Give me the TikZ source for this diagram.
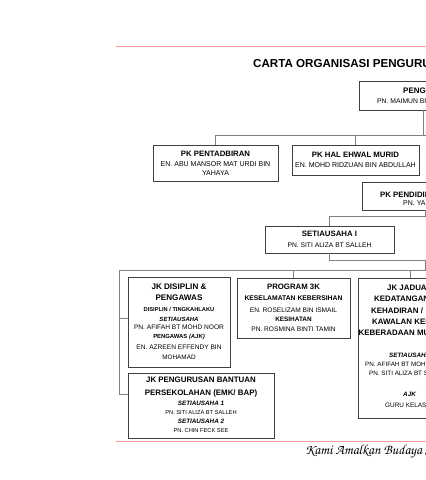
\documentclass[tikz,border=0pt]{standalone}
\usepackage[T1]{fontenc}
\usepackage{fontspec}
\setmainfont{Liberation Sans}
\usetikzlibrary{positioning}
\newcommand{\fb}[1]{\fontsize{#1}{10}\selectfont\bfseries}
\newcommand{\fn}[1]{\fontsize{#1}{10}\selectfont\mdseries\upshape}
\newcommand{\fbi}[1]{\fontsize{#1}{10}\selectfont\bfseries\itshape}
\tikzset{
  kotak/.style={draw=black!75,line width=0.6pt,inner sep=1pt,align=center,
                font=\fontsize{7}{10}\selectfont},
  garis/.style={draw=black!50,line width=0.6pt},
  merah/.style={draw=red!40,line width=0.8pt},
  teks/.style={anchor=west,inner sep=0pt},
}

\begin{document}
\begin{tikzpicture}[x=1pt,y=-1pt]
  \clip (0,0) rectangle (426,480);
  \useasboundingbox (0,0) rectangle (426,480);
  % garis merah atas dan bawah
  \draw[merah] (116,46) -- (426,46);
  \draw[merah] (116,441) -- (426,441);
  \node[teks,font=\fb{11.6}] (tajuk) at (253,64) {CARTA ORGANISASI PENGURUSAN};
  % peringkat atas
  \node[kotak,minimum width=134,minimum height=29] (peng) at (426,95.5) {};
  \node[teks,font=\fb{8}] (pengA) at (403,91) {PENGETUA};
  \node[teks,font=\fn{6.8}] (pengB) at (377,101.5) {PN. MAIMUN BINTI};
  \node[kotak,minimum width=125,minimum height=36] (pentadbiran) at (215.5,163)
    {\fb{7.8}PK PENTADBIRAN\\ \fn{7}EN. ABU MANSOR MAT URDI BIN\\[-1pt] \fn{7}YAHAYA};
  \node[kotak,minimum width=127,minimum height=30] (hem) at (355.5,160)
    {\fb{7.8}PK HAL EHWAL MURID\\ \fn{7}EN. MOHD RIDZUAN BIN ABDULLAH};
  \node[kotak,minimum width=106,minimum height=28] (pendid) at (415,196) {};
  \node[teks,font=\fb{7.8}] (pendidA) at (380,195) {PK PENDIDIKAN};
  \node[teks,font=\fn{7}] (pendidB) at (403,203.5) {PN. YAP};
  \node[kotak,minimum width=129,minimum height=27] (setia) at (329.5,239.5)
    {\fb{7.8}SETIAUSAHA I\\[1pt] \fn{6.7}PN. SITI ALIZA BT SALLEH};
  % jawatankuasa
  \node[kotak,minimum width=102,minimum height=90] (disiplin) at (179,322)
    {\fb{8.1}JK DISIPLIN \&\\[1pt] \fb{8.1}PENGAWAS\\[1pt] \fb{5.7}DISIPLIN / TINGKAHLAKU\\
     \fbi{6}SETIAUSAHA\\[-2pt] \fn{6.6}PN. AFIFAH BT MOHD NOOR\\[-1pt]
     \fb{5.9}PENGAWAS \textit{(AJK)}\\[1pt] \fn{6.6}EN. AZREEN EFFENDY BIN\\ \fn{6.4}MOHAMAD};
  \node[kotak,minimum width=113,minimum height=60] (prog) at (293.5,308)
    {\fb{7.8}PROGRAM 3K\\[1pt] \fb{6.8}KESELAMATAN KEBERSIHAN\\[2pt] \fn{6.6}EN. ROSELIZAM BIN ISMAIL\\[-1pt]
     \fb{6.4}KESIHATAN\\ \fn{6.6}PN. ROSMINA BINTI TAMIN};
  \node[kotak,minimum width=104,minimum height=140] (jadual) at (410,348) {};
  \node[teks,font=\fb{7.9}] (jadualA) at (387,288) {JK JADUAL};
  \node[teks,font=\fb{7.9}] (jadualB) at (374,299) {KEDATANGAN};
  \node[teks,font=\fb{7.9}] (jadualC) at (371,310.5) {KEHADIRAN /};
  \node[teks,font=\fb{7.9}] (jadualD) at (372,321.5) {KAWALAN KELUAR};
  \node[teks,font=\fb{7.9}] (jadualE) at (358.5,333) {KEBERADAAN MURID};
  \node[teks,font=\fbi{6.3}] (jadualF) at (389,355) {SETIAUSAHA};
  \node[teks,font=\fn{6.3}] (jadualG) at (365,364.5) {PN. AFIFAH BT MOHD NOOR};
  \node[teks,font=\fn{6.3}] (jadualH) at (369,373.5) {PN. SITI ALIZA BT SALLEH};
  \node[teks,font=\fbi{6.3}] (jadualI) at (403,394.5) {AJK};
  \node[teks,font=\fn{6.4}] (jadualJ) at (385,405) {GURU KELAS};
  \node[kotak,minimum width=146,minimum height=65,font=\fontsize{7}{9}\selectfont,
        text depth=1.5pt] (bantuan) at (201,405.5)
    {\fb{7.9}JK PENGURUSAN BANTUAN\\[4pt] \fb{7.9}PERSEKOLAHAN (EMK/ BAP)\\[1pt]
     \fbi{6.3}SETIAUSAHA 1\\ \fn{5.7}PN. SITI ALIZA BT SALLEH\\
     \fbi{6.3}SETIAUSAHA 2\\ \fn{5.7}PN. CHIN FECK SEE};
  % motto
  \node[teks] (moto) at (305,452)
    {\fontencoding{T1}\fontfamily{pzc}\fontseries{m}\fontshape{it}\fontsize{14}{14}\selectfont Kami Amalkan Budaya Sekolah};
  % penyambung
  \coordinate (c1) at (423,135);
  \coordinate (c1b) at (426,135);
  \draw[garis] (peng.south -| c1) -- (c1) -| (pentadbiran.north);
  \draw[garis] (c1) -- (c1b);
  \draw[garis] (c1 -| hem.north) -- (hem.north);
  \coordinate (c2) at (425,216);
  \draw[garis] (pendid.south -| c2) -- (c2) -| (setia.north);
  \coordinate (c3) at (425,260);
  \coordinate (c4) at (425,270);
  \coordinate (c5) at (119,270);
  \coordinate (c6) at (119,394);
  \coordinate (c7) at (426,270);
  \draw[garis] (setia.south) |- (c3) -- (c4);
  \draw[garis] (c5) -- (c7);
  \draw[garis] (c5 -| prog.north) -- (prog.north);
  \draw[garis] (c5 -| jadual.north) -- (jadual.north);
  \draw[garis] (c5) -- (c6) -- (c6 -| bantuan.west);
  \draw[garis] ([yshift=4pt]disiplin.west -| c5) -- ([yshift=4pt]disiplin.west);
\end{tikzpicture}
\end{document}
